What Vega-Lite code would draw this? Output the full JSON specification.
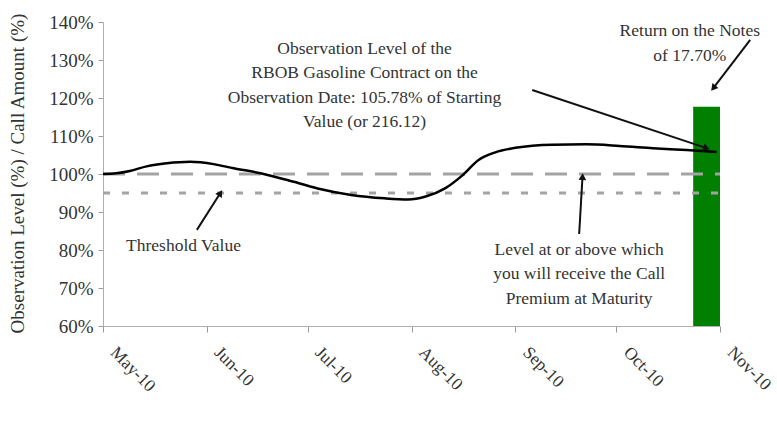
{
  "$schema": "https://vega.github.io/schema/vega-lite/v6.json",
  "width": 617,
  "height": 304,
  "autosize": {"type": "none"},
  "padding": {"left": 103, "top": 22, "right": 57, "bottom": 106},
  "background": "white",
  "config": {
    "view": {"stroke": null},
    "font": "Liberation Serif",
    "axisY": {
      "labelFont": "Liberation Serif", "labelFontSize": 19, "labelColor": "#333333",
      "tickColor": "#9a9a9a", "domainColor": "#b0b0b0", "tickSize": 5, "labelPadding": 5,
      "grid": false, "titleFont": "Liberation Serif", "titleFontSize": 19, "titleFontWeight": "normal",
      "titleColor": "#333333", "titleX": -86, "titleY": 151, "titleBaseline": "middle",
      "values": [0.6, 0.7, 0.8, 0.9, 1.0, 1.1, 1.2, 1.3, 1.4], "format": ".0%"
    },
    "axisX": {
      "labelFont": "Liberation Serif", "labelFontSize": 17.5, "labelColor": "#333333",
      "tickColor": "#9a9a9a", "domainColor": "#b0b0b0", "tickSize": 6,
      "grid": false, "labelAngle": 45, "format": "%b-%y"
    }
  },
  "datasets": {
    "series": [
      {"date": "2010-05-01", "value": 1.000},
      {"date": "2010-05-05", "value": 1.002},
      {"date": "2010-05-09", "value": 1.008},
      {"date": "2010-05-14", "value": 1.020},
      {"date": "2010-05-20", "value": 1.028},
      {"date": "2010-05-27", "value": 1.032},
      {"date": "2010-06-03", "value": 1.026},
      {"date": "2010-06-09", "value": 1.015},
      {"date": "2010-06-17", "value": 1.002},
      {"date": "2010-06-25", "value": 0.984},
      {"date": "2010-07-04", "value": 0.962},
      {"date": "2010-07-14", "value": 0.945},
      {"date": "2010-07-24", "value": 0.936},
      {"date": "2010-07-31", "value": 0.933},
      {"date": "2010-08-05", "value": 0.940},
      {"date": "2010-08-11", "value": 0.962},
      {"date": "2010-08-16", "value": 0.995},
      {"date": "2010-08-21", "value": 1.037},
      {"date": "2010-08-26", "value": 1.057},
      {"date": "2010-09-01", "value": 1.069},
      {"date": "2010-09-12", "value": 1.077},
      {"date": "2010-09-22", "value": 1.078},
      {"date": "2010-10-02", "value": 1.074},
      {"date": "2010-10-12", "value": 1.068},
      {"date": "2010-10-22", "value": 1.063},
      {"date": "2010-10-31", "value": 1.0578}
    ],
    "bar": [
      {"date": "2010-10-24", "date2": "2010-11-01", "value": 0.6, "value2": 1.177}
    ],
    "levels": [
      {"id": "call", "date": "2010-05-01", "date2": "2010-11-01", "value": 1.0},
      {"id": "threshold", "date": "2010-05-01", "date2": "2010-11-01", "value": 0.95}
    ],
    "arrows": [
      {"id": "obs", "date": "2010-10-28", "value": 1.068, "date2": "2010-09-06", "value2": 1.221},
      {"id": "ret", "date": "2010-10-30", "value": 1.226, "date2": "2010-11-10", "value2": 1.353},
      {"id": "thr", "date": "2010-06-05", "value": 0.95, "date2": "2010-05-29", "value2": 0.853},
      {"id": "lvl", "date": "2010-09-21", "value": 0.993, "date2": "2010-09-20", "value2": 0.842}
    ],
    "notes": [
      {"date": "2010-07-18", "value": 1.316, "text": ["Observation Level of the", "RBOB Gasoline Contract on the", "Observation Date: 105.78% of Starting", "Value (or 216.12)"]},
      {"date": "2010-10-23", "value": 1.363, "text": ["Return on the Notes", "of 17.70%"]},
      {"date": "2010-05-25", "value": 0.797, "text": ["Threshold Value"]},
      {"date": "2010-09-20", "value": 0.787, "text": ["Level at or above which", "you will receive the Call", "Premium at Maturity"]}
    ]
  },
  "encoding": {
    "x": {
      "field": "date", "type": "temporal", "title": null,
      "scale": {"type": "utc", "domain": [{"year": 2010, "month": 5, "date": 1, "utc": true}, {"year": 2010, "month": 11, "date": 1, "utc": true}]},
      "axis": {
        "labelOffset": 16, "labelPadding": 11,
        "values": [
        {"year": 2010, "month": 5, "date": 1, "utc": true},
        {"year": 2010, "month": 6, "date": 1, "utc": true},
        {"year": 2010, "month": 7, "date": 1, "utc": true},
        {"year": 2010, "month": 8, "date": 1, "utc": true},
        {"year": 2010, "month": 9, "date": 1, "utc": true},
        {"year": 2010, "month": 10, "date": 1, "utc": true},
        {"year": 2010, "month": 11, "date": 1, "utc": true}
      ]}
    },
    "y": {
      "field": "value", "type": "quantitative", "title": "Observation Level (%) / Call Amount (%)",
      "scale": {"domain": [0.6, 1.4], "nice": false, "zero": false}
    }
  },
  "layer": [
    {
      "data": {"name": "bar"},
      "mark": {"type": "bar", "color": "#007f00"},
      "encoding": {"x2": {"field": "date2"}, "y2": {"field": "value2"}}
    },
    {
      "data": {"name": "levels"},
      "transform": [{"filter": "datum.id === 'call'"}],
      "mark": {"type": "rule", "color": "#a3a3a3", "strokeWidth": 3, "strokeDash": [22, 12]},
      "encoding": {"x2": {"field": "date2"}}
    },
    {
      "data": {"name": "levels"},
      "transform": [{"filter": "datum.id === 'threshold'"}],
      "mark": {"type": "rule", "color": "#a3a3a3", "strokeWidth": 3, "strokeDash": [7, 12]},
      "encoding": {"x2": {"field": "date2"}}
    },
    {
      "data": {"name": "series"},
      "mark": {"type": "line", "color": "#000000", "strokeWidth": 2.5, "interpolate": "monotone"}
    },
    {
      "data": {"name": "arrows"},
      "mark": {"type": "rule", "color": "#111111", "strokeWidth": 2},
      "encoding": {"x2": {"field": "date2"}, "y2": {"field": "value2"}}
    },
    {
      "data": {"name": "arrows"},
      "transform": [{"filter": "datum.id === 'obs'"}],
      "mark": {"type": "point", "shape": "triangle-up", "filled": true, "color": "#111111", "size": 60, "opacity": 1, "angle": 108}
    },
    {
      "data": {"name": "arrows"},
      "transform": [{"filter": "datum.id === 'ret'"}],
      "mark": {"type": "point", "shape": "triangle-up", "filled": true, "color": "#111111", "size": 60, "opacity": 1, "angle": 220}
    },
    {
      "data": {"name": "arrows"},
      "transform": [{"filter": "datum.id === 'thr'"}],
      "mark": {"type": "point", "shape": "triangle-up", "filled": true, "color": "#111111", "size": 60, "opacity": 1, "angle": 32}
    },
    {
      "data": {"name": "arrows"},
      "transform": [{"filter": "datum.id === 'lvl'"}],
      "mark": {"type": "point", "shape": "triangle-up", "filled": true, "color": "#111111", "size": 60, "opacity": 1, "angle": 3}
    },
    {
      "data": {"name": "notes"},
      "mark": {"type": "text", "font": "Liberation Serif", "fontSize": 17.5, "color": "#333333", "align": "center", "baseline": "alphabetic", "lineHeight": 24.5},
      "encoding": {"text": {"field": "text", "type": "nominal"}}
    }
  ]
}
